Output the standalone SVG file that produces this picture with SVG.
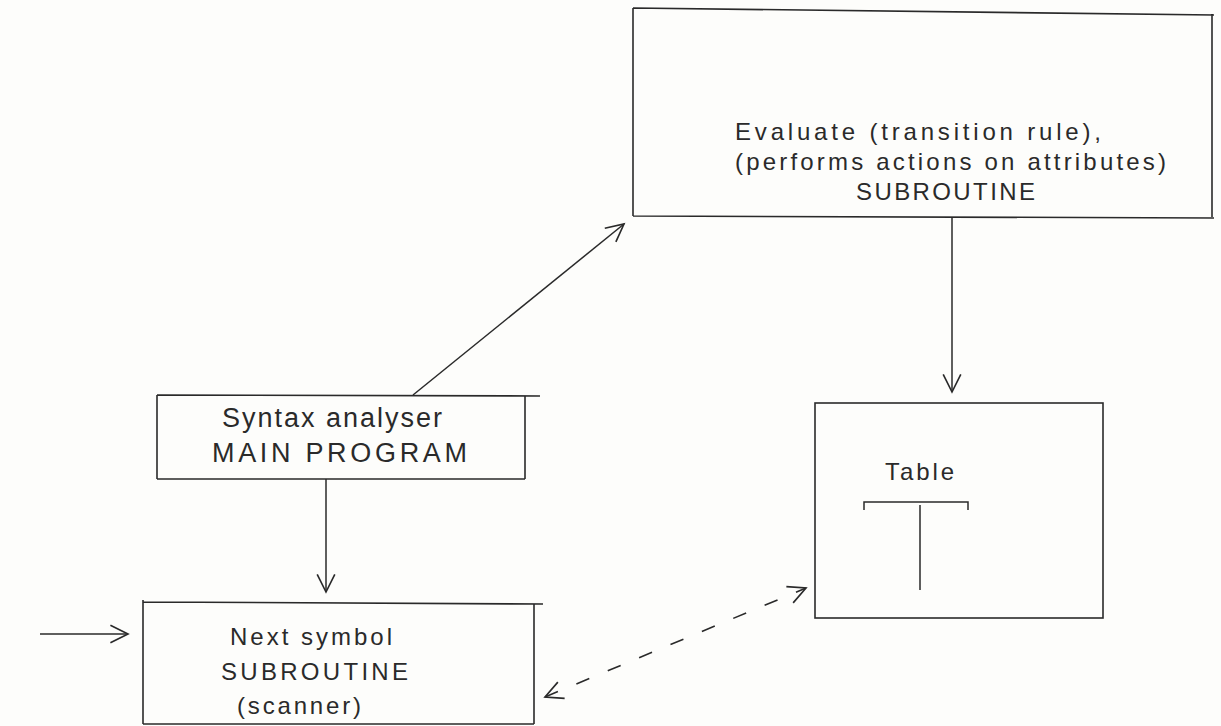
<svg xmlns="http://www.w3.org/2000/svg" width="1221" height="726" viewBox="0 0 1221 726">
<style>
.box{fill:none;stroke:#2a2a2a;stroke-width:1.6}
.ln{fill:none;stroke:#2a2a2a;stroke-width:1.5}
.dash{fill:none;stroke:#2a2a2a;stroke-width:1.6;stroke-dasharray:14 20}
text{font-family:"Liberation Sans",Arial,sans-serif;fill:#2a2a2a}
.t{font-size:24px}
.tb{font-size:27px}
</style>
<defs>
<marker id="v" viewBox="0 0 20 20" refX="18" refY="10" markerWidth="22" markerHeight="22" markerUnits="userSpaceOnUse" orient="auto-start-reverse">
<path d="M2,2 L18,10 L2,18" fill="none" stroke="#2a2a2a" stroke-width="1.5"/>
</marker>
</defs>
<rect width="1221" height="726" fill="#fdfdfb"/>
<g id="evaluate">
<path class="box" d="M633,8 L1214,15 M633,8 L633,216 M1212,14 L1212,217 M633,216 L1214,218"/>
<text class="t" x="735" y="140" textLength="366">Evaluate (transition rule),</text>
<text class="t" x="735" y="170" textLength="431">(performs actions on attributes)</text>
<text class="t" x="856" y="200" textLength="179">SUBROUTINE</text>
</g>
<g id="syntax">
<path class="box" d="M157,395 L540,396 M157,395 L157,479 M525,396 L525,479 M157,479 L525,479"/>
<text class="tb" x="222" y="427" textLength="220">Syntax analyser</text>
<text class="tb" x="212" y="462" textLength="255">MAIN PROGRAM</text>
</g>
<g id="next">
<path class="box" d="M143,602 L543,604 M143,600 L143,724 M534,604 L534,724 M143,724 L534,724"/>
<text class="t" x="230" y="645" textLength="162">Next symbol</text>
<text class="t" x="221" y="680" textLength="187">SUBROUTINE</text>
<text class="t" x="237" y="714" textLength="124">(scanner)</text>
</g>
<g id="table">
<rect class="box" x="815" y="403" width="288" height="215"/>
<text class="t" x="885" y="480" textLength="69">Table</text>
<path class="ln" d="M864,510 L864,502 L968,502 L968,510 M920,505 L920,590"/>
</g>
<g id="connectors">
<line class="ln" x1="413" y1="395" x2="624" y2="224" marker-end="url(#v)"/>
<line class="ln" x1="952" y1="217" x2="952" y2="392" marker-end="url(#v)"/>
<line class="ln" x1="326" y1="479" x2="326" y2="592" marker-end="url(#v)"/>
<line class="ln" x1="40" y1="634" x2="128" y2="634" marker-end="url(#v)"/>
<line class="dash" x1="545" y1="697" x2="806" y2="588" marker-start="url(#v)" marker-end="url(#v)"/>
</g>
</svg>
